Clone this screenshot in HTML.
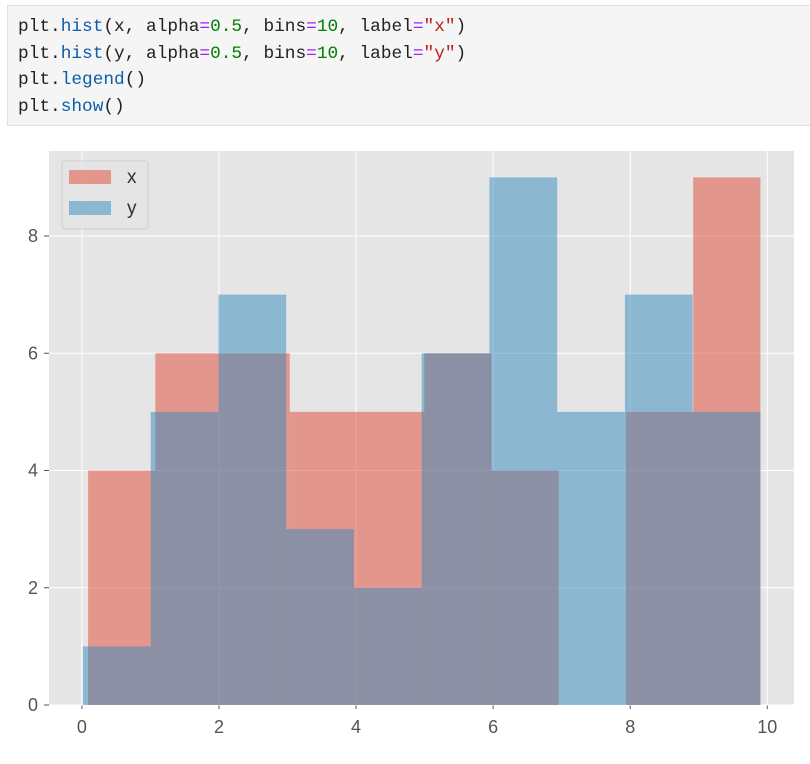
<!DOCTYPE html>
<html><head><meta charset="utf-8">
<style>
body{margin:0;background:#fff;width:810px;height:764px;overflow:hidden;font-family:"Liberation Sans",sans-serif}
#code{position:absolute;left:7px;top:5px;width:820px;height:121px;background:#f5f5f5;border:1px solid #e0e0e0;box-sizing:border-box}
#code pre{margin:0;position:absolute;left:10px;top:8px;font-family:"Liberation Mono","DejaVu Sans Mono",monospace;font-size:17.8px;line-height:26.7px;color:#222}
.f{color:#0b5ea8}.o{color:#a020f0}.n{color:#008000}.s{color:#ba2121}
svg{position:absolute;left:0;top:0}
</style></head><body>
<div id="code"><pre>plt.<span class="f">hist</span>(x, alpha<span class="o">=</span><span class="n">0.5</span>, bins<span class="o">=</span><span class="n">10</span>, label<span class="o">=</span><span class="s">"x"</span>)
plt.<span class="f">hist</span>(y, alpha<span class="o">=</span><span class="n">0.5</span>, bins<span class="o">=</span><span class="n">10</span>, label<span class="o">=</span><span class="s">"y"</span>)
plt.<span class="f">legend</span>()
plt.<span class="f">show</span>()</pre></div>
<svg id="chart" width="810" height="764"></svg>
<script>
const xStart=0.09, xEnd=9.9;
const xCounts=[4,6,6,5,5,6,4,0,5,9];
const yStart=0.015, yEnd=9.9;
const yCounts=[1,5,7,3,2,6,9,5,7,5];
const xTicks=[0,2,4,6,8,10];
const yTicks=[0,2,4,6,8];
const L=49,R=794,T=151,B=705;
const xmin=-0.48,xmax=10.39,ymin=0,ymax=9.45;
const sx=v=>L+(v-xmin)/(xmax-xmin)*(R-L);
const sy=v=>B-(v-ymin)/(ymax-ymin)*(B-T);
const svg=document.getElementById('chart');
const NS='http://www.w3.org/2000/svg';
function mk(tag,attrs,parent){const e=document.createElementNS(NS,tag);for(const k in attrs)e.setAttribute(k,attrs[k]);(parent||svg).appendChild(e);return e;}
let bg=mk('rect',{x:L,y:T,width:R-L,height:B-T,fill:'#e5e5e5'});


xTicks.forEach(t=>{
  let g=mk('line',{x1:sx(t),x2:sx(t),y1:T,y2:B,stroke:'#fff','stroke-width':1});
  
  
  let tk=mk('line',{x1:sx(t),x2:sx(t),y1:B,y2:B+4,stroke:'#555'});
  
  
  let tx=mk('text',{x:sx(t),y:B+28,'text-anchor':'middle','font-size':18,fill:'#555'});
  tx.textContent=t;
  
  
});
yTicks.forEach(t=>{
  let g=mk('line',{x1:L,x2:R,y1:sy(t),y2:sy(t),stroke:'#fff','stroke-width':1});
  
  
  let tk=mk('line',{x1:L-5,x2:L,y1:sy(t),y2:sy(t),stroke:'#555'});
  
  
  let tx=mk('text',{x:L-11,y:sy(t)+6,'text-anchor':'end','font-size':18,fill:'#555'});
  tx.textContent=t;
  
  
});
function hist(start,end,counts,color,name){
  const w=(end-start)/counts.length;
  counts.forEach((c,i)=>{
    if(c<=0)return;
    const x0=sx(start+i*w),x1=sx(start+(i+1)*w);
    let r=mk('rect',{x:x0,y:sy(c),width:x1-x0,height:sy(0)-sy(c),fill:color,'fill-opacity':0.5});
    
    
  });
}
hist(xStart,xEnd,xCounts,'#E24A33','bar-x');
hist(yStart,yEnd,yCounts,'#348ABD','bar-y');
let lg=mk('rect',{x:62,y:161,width:86,height:68,rx:3,fill:'#e5e5e5',stroke:'#d0d0d0','fill-opacity':0.8});


[['x','#E24A33',170],['y','#348ABD',201]].forEach(([lab,c,y])=>{
  let p=mk('rect',{x:69,y:y,width:42,height:14,fill:c,'fill-opacity':0.5});
  
  
  let t=mk('text',{x:127,y:y+13,'font-size':19,fill:'#333'});
  t.textContent=lab;
  
  
});
</script>
</body></html>
